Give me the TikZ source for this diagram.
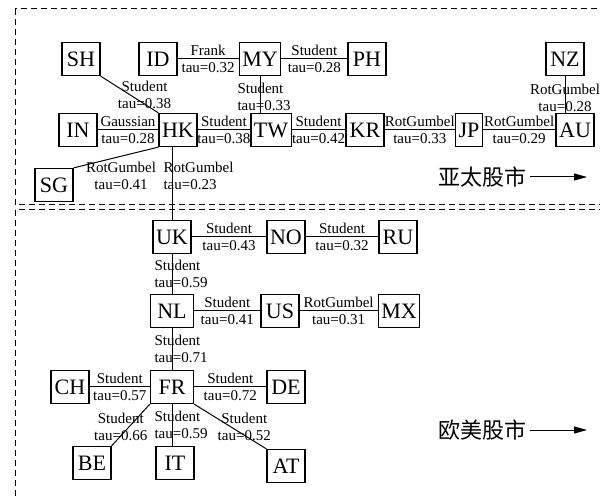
\documentclass[tikz,border=0pt]{standalone}
\usepackage{fontspec}
\setmainfont{Liberation Serif}
\newfontfamily\cjk{Noto Sans CJK SC}
\usetikzlibrary{arrows.meta}

\begin{document}
\begin{tikzpicture}[x=0.5pt,y=-0.5pt,
    mkt/.style={draw,line width=0.6pt,font=\fontsize{11}{11}\selectfont,inner xsep=1.5pt,inner ysep=0pt,minimum height=16.5pt,minimum width=19pt},
    cop/.style={font=\fontsize{7.5}{8.5}\selectfont,align=center,inner sep=0pt},
    link/.style={line width=0.5pt},
    region/.style={dash pattern=on 3pt off 2pt,line width=0.5pt},
    tag/.style={font=\cjk\fontsize{11}{11}\selectfont,inner sep=2pt}]
    \useasboundingbox (0,0) rectangle (600,497);
    \clip (0,0) rectangle (600,497);

    % Regions
    \draw[region] (15,9) rectangle (620,205);
    \draw[region] (15,210) rectangle (620,520);

    % Asia-Pacific markets
    \node[mkt] (SH) at (81,59) {SH};
    \node[mkt] (ID) at (158,59) {ID};
    \node[mkt] (MY) at (260,59) {MY};
    \node[mkt] (PH) at (367,59) {PH};
    \node[mkt] (NZ) at (565,59) {NZ};
    \node[mkt] (IN) at (78,130) {IN};
    \node[mkt] (HK) at (178,130) {HK};
    \node[mkt] (TW) at (271,130) {TW};
    \node[mkt] (KR) at (365,130) {KR};
    \node[mkt,minimum width=0pt] (JP) at (469,130) {JP};
    \node[mkt] (AU) at (575,130) {AU};
    \node[mkt] (SG) at (54,185) {SG};

    % European and American markets
    \node[mkt] (UK) at (172,237) {UK};
    \node[mkt] (NO) at (286,237) {NO};
    \node[mkt] (RU) at (398,237) {RU};
    \node[mkt,minimum width=21.5pt] (NL) at (172,311) {NL};
    \node[mkt] (US) at (280,311) {US};
    \node[mkt] (MX) at (399,311) {MX};
    \node[mkt,minimum width=21.5pt] (FR) at (172,387) {FR};
    \node[mkt] (CH) at (70,387) {CH};
    \node[mkt] (DE) at (286,387) {DE};
    \node[mkt] (BE) at (92,463) {BE};
    \node[mkt] (IT) at (175,463) {IT};
    \node[mkt] (AT) at (286,466) {AT};

    % Horizontal links
    \foreach \a/\b/\c/\t in {ID/MY/Frank/0.32, MY/PH/Student/0.28, IN/HK/Gaussian/0.28,
        HK/TW/Student/0.38, TW/KR/Student/0.42, KR/JP/RotGumbel/0.33, JP/AU/RotGumbel/0.29,
        UK/NO/Student/0.43, NO/RU/Student/0.32, NL/US/Student/0.41, US/MX/RotGumbel/0.31,
        CH/FR/Student/0.57, FR/DE/Student/0.72} {
        \draw[link] (\a) -- node[cop] {\c\\tau=\t} (\b);
    }

    % Vertical links
    \draw[link] (MY.south) -- node[cop,align=left,anchor=west,xshift=-11.5pt,yshift=-1pt] {Student\\tau=0.33} (MY.south |- TW.north);
    \draw[link] (NZ.south) -- node[cop,pos=0.6] {RotGumbel\\tau=0.28} (NZ.south |- AU.north);
    \draw[link] (UK.north |- HK.south) -- node[cop,align=left,anchor=west,pos=0.39,xshift=-4.5pt] {RotGumbel\\tau=0.23} (UK.north);
    \foreach \a/\b/\t in {UK/NL/0.59, NL/FR/0.71, FR/IT/0.59} {
        \draw[link] (\a.south) -- node[cop,align=left,anchor=west,xshift=-9pt] {Student\\tau=\t} (\a.south |- \b.north);
    }

    % Diagonal links
    \draw[link] (SH.south east) -- node[cop,xshift=7.5pt] {Student\\tau=0.38} (HK.north west);
    \draw[link] (SG.north east) -- node[cop,xshift=2.5pt,yshift=-9pt] {RotGumbel\\tau=0.41} (HK.south west);
    \draw[link] (FR.south west) -- node[cop,xshift=-5pt,yshift=-1pt] {Student\\tau=0.66} (BE.north east);
    \draw[link] (FR.south east) -- node[cop,xshift=7pt] {Student\\tau=0.52} (AT.north west);

    % Region tags
    \node[tag] (ap) at (482,177) {亚太股市};
    \node[tag] (ea) at (482,430) {欧美股市};
    \coordinate (apEnd) at (587,177);
    \coordinate (eaEnd) at (587,430);
    \draw[link,-{Triangle[length=6.5pt,width=3.5pt]}] (ap) -- (apEnd);
    \draw[link,-{Triangle[length=6.5pt,width=3.5pt]}] (ea) -- (eaEnd);
\end{tikzpicture}
\end{document}
